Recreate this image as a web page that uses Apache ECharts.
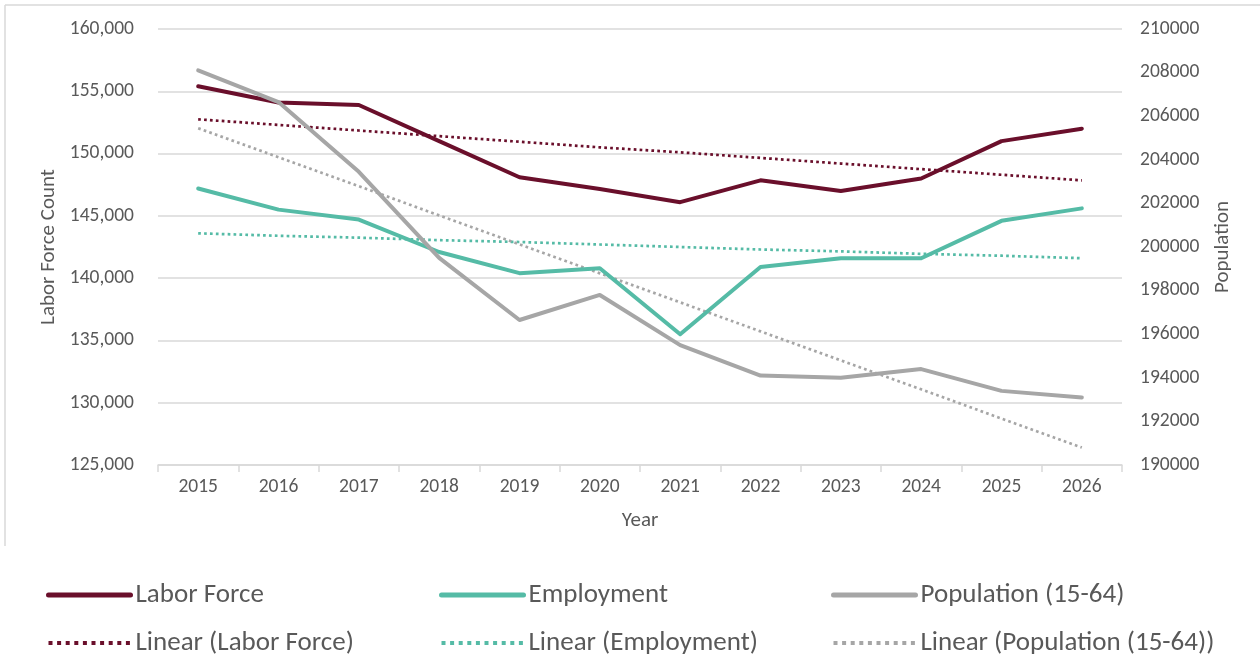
<!DOCTYPE html>
<html>
<head>
<meta charset="utf-8">
<script src="https://cdn.jsdelivr.net/npm/echarts@6/dist/echarts.min.js"></script>
<style>html,body{margin:0;padding:0;background:#fff}#c{width:1260px;height:662px}</style>
</head>
<body>
<div id="c"></div>
<script>
var years = ['2015','2016','2017','2018','2019','2020','2021','2022','2023','2024','2025','2026'];
var laborForce = [155400,154100,153900,151000,148100,147150,146100,147850,147000,148000,151000,152000];
var employment = [147200,145500,144700,142100,140400,140800,135500,140900,141600,141600,144600,145600];
var population = [208100,206650,203450,199500,196650,197800,195500,194100,194000,194400,193400,193100];
var linearLabor = [152750,152300,151850,151400,150950,150500,150100,149650,149200,148750,148300,147850];
var linearEmployment = [143600,143400,143250,143050,142900,142700,142500,142300,142150,141950,141800,141600];
var linearPopulation = [205450,204120,202790,201450,200120,198790,197460,196130,194800,193470,192130,190800];

var FONT = 'Carlito, Lato, sans-serif';
var GREY = '#595959';
var C_LF = '#6a0f2b', C_EM = '#55bba6', C_POP = '#a6a6a6';

var chart = echarts.init(document.getElementById('c'), null, {renderer:'canvas'});
function solid(name, data, color, yIdx){
  return {name:name, type:'line', data:data, yAxisIndex:yIdx, symbol:'none', smooth:false,
    lineStyle:{color:color, width:4, cap:'round', join:'round'}, itemStyle:{color:color}, z:3};
}
function dotted(name, data, color, yIdx){
  return {name:name, type:'line', data:data, yAxisIndex:yIdx, symbol:'none',
    lineStyle:{color:color, width:2.7, type:[2.7,3.2]}, itemStyle:{color:color}, z:2};
}
var legendCommon = {orient:'vertical', top:581.5, padding:0, itemWidth:82, itemHeight:14, itemGap:21,
  itemStyle:{opacity:0},
  textStyle:{fontFamily:FONT, fontSize:27, color:GREY, padding:[0,0,0,0]}, selectedMode:false};
function lg(a, b){
  return [{name:a, lineStyle:{width:5, cap:'round'}}, {name:b, lineStyle:{width:4, type:[4,4.6]}}];
}
chart.setOption({
  animation:false,
  backgroundColor:'#fff',
  grid:{left:158, right:138, top:29, bottom:197, containLabel:false},
  graphic:[
    {type:'line', shape:{x1:5,y1:5,x2:1260,y2:5}, style:{stroke:'#d9d9d9', lineWidth:1.5}},
    {type:'line', shape:{x1:5,y1:5,x2:5,y2:546}, style:{stroke:'#d9d9d9', lineWidth:1.5}}
  ],
  legend:[
    Object.assign({}, legendCommon, {left:46, data:lg('Labor Force','Linear (Labor Force)')}),
    Object.assign({}, legendCommon, {left:439, data:lg('Employment','Linear (Employment)')}),
    Object.assign({}, legendCommon, {left:831, data:lg('Population (15-64)','Linear (Population (15-64))')})
  ],
  xAxis:{type:'category', data:years, boundaryGap:true,
    name:'Year', nameLocation:'middle', nameGap:45,
    nameTextStyle:{fontFamily:FONT, fontSize:21, color:GREY},
    axisLine:{lineStyle:{color:'#d9d9d9', width:1.5}},
    axisTick:{show:true, length:7, lineStyle:{color:'#d9d9d9', width:1.5}},
    axisLabel:{fontFamily:FONT, fontSize:19.5, color:GREY, margin:12}},
  yAxis:[
    {type:'value', min:125000, max:160000, interval:5000, position:'left',
      name:'Labor Force Count', nameLocation:'middle', nameGap:98, nameRotate:90,
      nameTextStyle:{fontFamily:FONT, fontSize:21, color:GREY},
      axisLine:{show:false}, axisTick:{show:false},
      splitLine:{lineStyle:{color:'#d9d9d9', width:1.5}},
      axisLabel:{fontFamily:FONT, fontSize:19.5, color:GREY, margin:24,
        formatter:function(v){return v.toLocaleString('en-US');}}},
    {type:'value', min:190000, max:210000, interval:2000, position:'right',
      name:'Population', nameLocation:'middle', nameGap:90, nameRotate:90,
      nameTextStyle:{fontFamily:FONT, fontSize:21, color:GREY},
      axisLine:{show:false}, axisTick:{show:false}, splitLine:{show:false},
      axisLabel:{fontFamily:FONT, fontSize:19.5, color:GREY, margin:18,
        formatter:function(v){return String(v);}}}
  ],
  series:[
    solid('Labor Force', laborForce, C_LF, 0),
    solid('Employment', employment, C_EM, 0),
    solid('Population (15-64)', population, C_POP, 1),
    dotted('Linear (Labor Force)', linearLabor, C_LF, 0),
    dotted('Linear (Employment)', linearEmployment, C_EM, 0),
    dotted('Linear (Population (15-64))', linearPopulation, C_POP, 1)
  ]
});
</script>
</body>
</html>
